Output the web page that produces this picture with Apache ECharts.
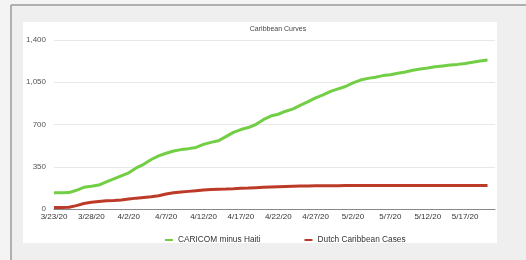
<!DOCTYPE html>
<html>
<head>
<meta charset="utf-8">
<script src="https://cdn.jsdelivr.net/npm/echarts@6/dist/echarts.min.js"></script>
<style>
  html, body { margin: 0; padding: 0; background: #f4f4f4; }
  #chart { width: 526px; height: 260px; }
</style>
</head>
<body>
<div id="chart"></div>
<script>
// daily dates 3/23/20 .. 5/21/20 (last one has no data, just axis room)
var dates = [
    '3/23/20', '3/24/20', '3/25/20', '3/26/20', '3/27/20', '3/28/20', '3/29/20', '3/30/20', '3/31/20',
    '4/1/20', '4/2/20', '4/3/20', '4/4/20', '4/5/20', '4/6/20', '4/7/20', '4/8/20', '4/9/20', '4/10/20',
    '4/11/20', '4/12/20', '4/13/20', '4/14/20', '4/15/20', '4/16/20', '4/17/20', '4/18/20', '4/19/20',
    '4/20/20', '4/21/20', '4/22/20', '4/23/20', '4/24/20', '4/25/20', '4/26/20', '4/27/20', '4/28/20',
    '4/29/20', '4/30/20', '5/1/20', '5/2/20', '5/3/20', '5/4/20', '5/5/20', '5/6/20', '5/7/20', '5/8/20',
    '5/9/20', '5/10/20', '5/11/20', '5/12/20', '5/13/20', '5/14/20', '5/15/20', '5/16/20', '5/17/20',
    '5/18/20', '5/19/20', '5/20/20', '5/21/20'
];
var caricom = [
    135, 134, 136, 155, 180, 188, 198, 225, 250, 275, 300, 340, 370, 410, 440, 462, 480, 492, 500, 510,
    535, 552, 565, 600, 635, 658, 675, 700, 740, 770, 785, 810, 830, 860, 890, 920, 945, 975, 995, 1015,
    1045, 1068, 1082, 1092, 1105, 1112, 1125, 1135, 1150, 1160, 1168, 1178, 1185, 1192, 1198, 1205,
    1215, 1226, 1234
];
var dutch = [
    12, 12, 14, 28, 45, 56, 63, 68, 70, 74, 82, 90, 96, 102, 110, 124, 134, 140, 146, 152,
    158, 162, 164, 165, 168, 172, 174, 177, 180, 182, 184, 186, 188, 190, 191, 192, 192, 193, 193, 194,
    194, 194, 194, 194, 194, 194, 194, 194, 194, 194, 194, 194, 194, 194, 194, 194,
    194, 194, 194
];
var seriesNames = ['CARICOM minus Haiti', 'Dutch Caribbean Cases'];

var chart = echarts.init(document.getElementById('chart'), null, { renderer: 'canvas' });
var option = {
    backgroundColor: '#f4f4f4',
    animation: false,
    graphic: [
        { type: 'rect', shape: { x: 11, y: 5, width: 515, height: 255 }, style: { fill: '#efefef' }, z: -10 },
        { type: 'rect', shape: { x: 23, y: 22, width: 474, height: 221 }, style: { fill: '#ffffff' }, z: -9 },
        { type: 'line', shape: { x1: 11, y1: 5, x2: 526, y2: 5 }, style: { stroke: '#9a9a9a', lineWidth: 1.5 }, z: -8 },
        { type: 'line', shape: { x1: 11, y1: 5, x2: 11, y2: 260 }, style: { stroke: '#9a9a9a', lineWidth: 1.5 }, z: -8 }
    ],
    title: {
        text: 'Caribbean Curves',
        left: 273,
        top: 21,
        textAlign: 'center',
        textStyle: { fontSize: 7, fontWeight: 'normal', color: '#444', fontFamily: 'Liberation Sans' }
    },
    legend: {
        left: 160,
        top: 231,
        icon: 'rect',
        itemWidth: 8,
        itemHeight: 2,
        itemGap: 44,
        textStyle: { fontSize: 8.3, color: '#333', fontFamily: 'Liberation Sans' },
        data: seriesNames
    },
    grid: {
        left: 54,
        right: 31,
        top: 40,
        bottom: 51,
        containLabel: false
    },
    xAxis: {
        type: 'category',
        data: dates,
        boundaryGap: false,
        axisLine: { lineStyle: { color: '#888', width: 1 } },
        axisTick: { show: false },
        axisLabel: {
            interval: 4,
            fontSize: 8,
            color: '#333',
            margin: 4,
            fontFamily: 'Liberation Sans'
        }
    },
    yAxis: {
        type: 'value',
        min: 0,
        max: 1400,
        interval: 350,
        axisLine: { show: false },
        axisTick: { show: false },
        axisLabel: {
            fontSize: 8,
            color: '#555',
            margin: 8,
            fontFamily: 'Liberation Sans',
            formatter: function (v) {
                return String(v).replace(/\B(?=(\d{3})+(?!\d))/g, ',');
            }
        },
        splitLine: { lineStyle: { color: '#e8e8e8', width: 1 } }
    },
    series: [
        {
            name: seriesNames[0],
            type: 'line',
            data: caricom,
            showSymbol: false,
            lineStyle: { width: 3, color: '#72cf45' },
            itemStyle: { color: '#72cf45' }
        },
        {
            name: seriesNames[1],
            type: 'line',
            data: dutch,
            showSymbol: false,
            lineStyle: { width: 3, color: '#bc3b28' },
            itemStyle: { color: '#bc3b28' }
        }
    ]
};

if (option && typeof option === 'object') {
    chart.setOption(option);
}

window.addEventListener('resize', function () {
    chart.resize();
});
</script>
</body>
</html>
